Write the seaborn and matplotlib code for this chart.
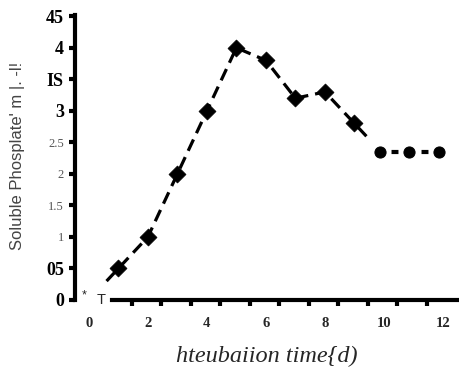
import numpy as np
import matplotlib
matplotlib.use('Agg')
import matplotlib.pyplot as plt
import matplotlib.ticker as mticker
import seaborn as sns

# ========== DATA ==========
days = [1, 2, 3, 4, 5, 6, 7, 8, 9]
phosphate = [0.5, 1.0, 2.0, 3.0, 4.0, 3.8, 3.2, 3.3, 2.8]

plateau_days = [9.85, 10.85, 11.85]
plateau_vals = [2.35, 2.35, 2.35]

x_tick_vals = [0, 2, 4, 6, 8, 10, 12]
y_tick_vals = [0, 0.5, 1, 1.5, 2, 2.5, 3, 3.5, 4, 4.5]
y_tick_text = ['0', '05', '1', '1.5', '2', '2.5', '3', 'IS', '4', '45']
y_tick_bold = [True, True, False, False, False, False, True, True, True, True]

# ========== STYLE ==========
sns.set_style('white')
plt.rcParams['lines.scale_dashes'] = False
plt.rcParams['font.family'] = ['Liberation Serif', 'DejaVu Serif']

fig = plt.figure(figsize=(4.59, 3.75), dpi=100)
ax = fig.add_axes([0.1634, 0.2, 0.8344, 0.76])

# dashed trend, extended a little past the first and last points
slope0 = (phosphate[1] - phosphate[0]) / (days[1] - days[0])
slope1 = (phosphate[-1] - phosphate[-2]) / (days[-1] - days[-2])
trend_x = [days[0] - 0.4] + days + [days[-1] + 0.45]
trend_y = [phosphate[0] - 0.4 * slope0] + phosphate + [phosphate[-1] + 0.45 * slope1]
sns.lineplot(x=trend_x, y=trend_y, ax=ax, color='black', linewidth=2.3,
             linestyle=(0, (9, 5)), sort=False, estimator=None)
sns.scatterplot(x=days, y=phosphate, ax=ax, color='black', marker='D', s=75,
                edgecolor='black', linewidth=0.5, zorder=3)

# plateau with circles
sns.lineplot(x=plateau_days, y=plateau_vals, ax=ax, color='black', linewidth=3.0,
             linestyle=(13.3, (5.0, 16.6)), marker='o', markersize=8,
             markeredgecolor='black', sort=False, estimator=None)

# ========== AXES ==========
ax.set_xlim(-0.47, 12.51)
ax.set_ylim(0, 4.52)

for side in ['top', 'right']:
    ax.spines[side].set_visible(False)
ax.spines['left'].set_linewidth(3.0)
ax.spines['bottom'].set_linewidth(3.0)
ax.spines['left'].set_color('black')
ax.spines['bottom'].set_color('black')
ax.spines['bottom'].set_bounds(0.8, 12.51)

ax.set_xticks(x_tick_vals)
ax.set_xticklabels([str(v) for v in x_tick_vals], fontsize=10.5, fontweight='bold')
ax.xaxis.set_minor_locator(mticker.FixedLocator(np.arange(1, 12) + 0.45))
ax.tick_params(axis='x', which='major', length=0, pad=12)
ax.tick_params(axis='x', which='minor', bottom=True, direction='out',
               length=4, width=3, color='black')

ax.set_yticks(y_tick_vals)
ax.set_yticklabels(y_tick_text)
ax.tick_params(axis='y', which='major', left=True, direction='out',
               length=4, width=3, color='black', pad=4)
for lab, bold in zip(ax.get_yticklabels(), y_tick_bold):
    if bold:
        lab.set_fontweight('bold')
        lab.set_fontsize(13)
        lab.set_color('black')
    else:
        lab.set_fontsize(9)
        lab.set_color('#555555')

ax.text(-0.17, 0.07, '*', fontsize=9, family=['Liberation Sans'], ha='center', va='center')
ax.text(0.42, 0.0, 'T', fontsize=10.5, family=['Liberation Sans'], ha='center', va='center')

ax.set_xlabel('hteubaiion time{d)', fontsize=17.5, style='italic', labelpad=12)
fig.text(0.038, 0.585, "Soluble Phosplate' m |. -l!", rotation=90, fontsize=12,
         family=['Liberation Sans'], color='#444444', ha='center', va='center')

fig.savefig('out.png', dpi=100)
